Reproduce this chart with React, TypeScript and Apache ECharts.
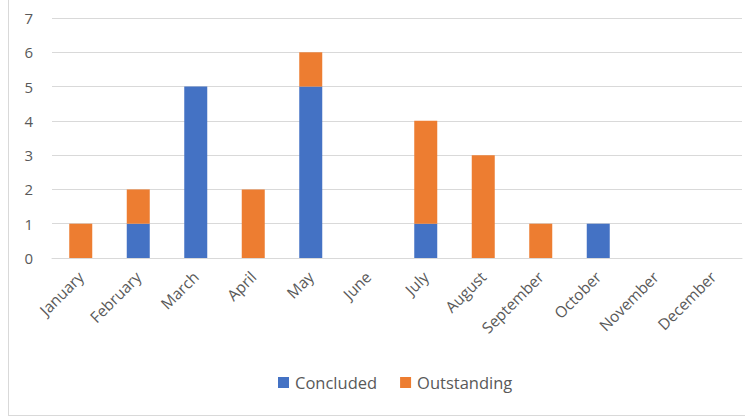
import React, { useEffect, useRef } from "react";
import * as echarts from "echarts";

const months = ["January", "February", "March", "April", "May", "June", "July", "August", "September", "October", "November", "December"];
const concluded = [0, 1, 5, 0, 5, 0, 1, 0, 0, 1, 0, 0];
const outstanding = [1, 1, 0, 2, 1, 0, 3, 3, 1, 0, 0, 0];

const FONT = "'Open Sans', 'Noto Sans', sans-serif";

export default function App() {
  const ref = useRef<HTMLDivElement>(null);
  useEffect(() => {
    if (!ref.current) return;
    const chart = echarts.init(ref.current, undefined, { renderer: "svg" });
    chart.setOption({
      animation: false,
      backgroundColor: "#fff",
      textStyle: { fontFamily: FONT },
      grid: { left: 52, right: 3, top: 18, bottom: 159 },
      legend: {
        bottom: 21,
        left: 273,
        itemWidth: 11,
        itemHeight: 11,
        itemGap: 23,
        icon: "rect",
        textStyle: { color: "#595959", fontSize: 16.5, fontFamily: FONT, padding: [0, 0, 0, 1] },
        data: ["Concluded", "Outstanding"],
      },
      xAxis: {
        type: "category",
        data: months,
        axisLine: { lineStyle: { color: "#D9D9D9" } },
        axisTick: { show: false },
        axisLabel: { rotate: 45, color: "#595959", fontSize: 15.5, margin: 16, interval: 0, fontFamily: FONT },
      },
      yAxis: {
        type: "value",
        min: 0,
        max: 7,
        interval: 1,
        axisLine: { show: false },
        axisTick: { show: false },
        splitLine: { lineStyle: { color: "#D9D9D9" } },
        axisLabel: { color: "#595959", fontSize: 15, margin: 19, fontFamily: FONT },
      },
      series: [
        {
          name: "Concluded",
          type: "bar",
          stack: "total",
          data: concluded,
          barWidth: "40%",
          itemStyle: { color: "#4472C4" },
        },
        {
          name: "Outstanding",
          type: "bar",
          stack: "total",
          data: outstanding,
          barWidth: "40%",
          itemStyle: { color: "#ED7D31" },
        },
      ],
      graphic: [
        { type: "line", shape: { x1: 8.5, y1: 0, x2: 8.5, y2: 415.5 }, style: { stroke: "#D9D9D9", lineWidth: 1 } },
        { type: "line", shape: { x1: 8, y1: 415.5, x2: 745, y2: 415.5 }, style: { stroke: "#D9D9D9", lineWidth: 1 } },
      ],
    });
    return () => chart.dispose();
  }, []);
  return <div ref={ref} style={{ position: "absolute", left: 0, top: 0, width: 745, height: 417 }} />;
}
